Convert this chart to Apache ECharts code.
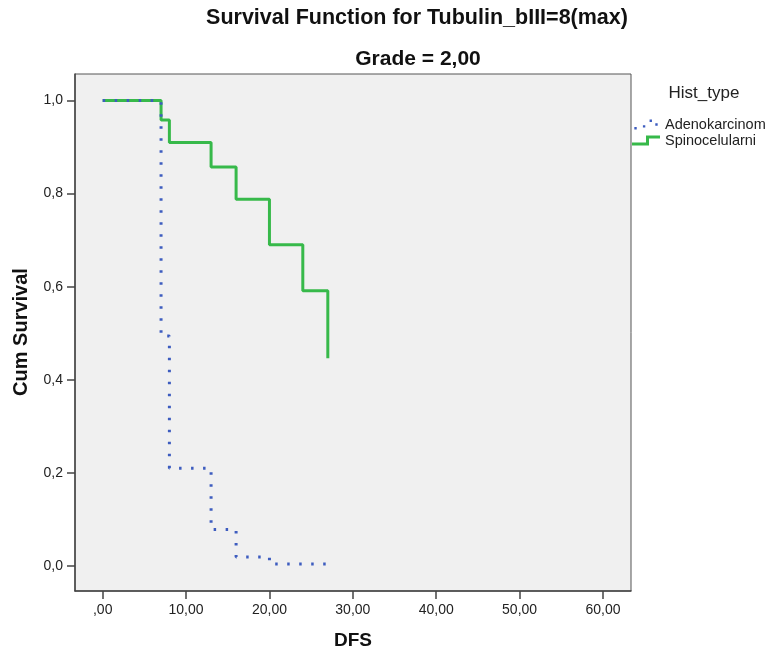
<!DOCTYPE html>
<html>
<head>
<meta charset="utf-8">
<script src="https://cdn.jsdelivr.net/npm/echarts@6/dist/echarts.min.js"></script>
<style>html,body{margin:0;padding:0;background:#fff}#c{width:767px;height:654px}</style>
</head>
<body>
<div id="c"></div>
<script>
var xTicks = [0, 10, 20, 30, 40, 50, 60];
var yTicks = [0, 0.2, 0.4, 0.6, 0.8, 1.0];
var adenoTime = [0, 7, 8, 13, 16, 20, 27];
var adenoSurv = [1.0, 0.494, 0.21, 0.078, 0.019, 0.004, 0.002];
var spinoTime = [0, 7, 8, 13, 16, 20, 24, 27];
var spinoSurv = [1.0, 0.958, 0.91, 0.857, 0.788, 0.69, 0.591, 0.446];

function zip(a, b) { return a.map(function (v, i) { return [v, b[i]]; }); }
function fmtX(v) { var s = v.toFixed(2).replace('.', ','); return s.replace(/^0,/, ','); }
function fmtY(v) { return v.toFixed(1).replace('.', ','); }

var FONT = '"Liberation Sans", Arial, sans-serif';
var chart = echarts.init(document.getElementById('c'));
chart.setOption({
  animation: false,
  backgroundColor: '#ffffff',
  grid: {
    left: 75, top: 74, width: 556, height: 517,
    show: true, backgroundColor: '#f0f0f0', borderColor: '#555', borderWidth: 1
  },
  xAxis: {
    type: 'value', min: -3.32, max: 63.36,
    splitLine: { show: false },
    axisLine: { show: true, onZero: false, lineStyle: { color: '#444', width: 1.5 } },
    axisTick: { show: true, length: 8, customValues: xTicks, lineStyle: { color: '#444', width: 1.5 } },
    axisLabel: { customValues: xTicks, formatter: fmtX, margin: 12, color: '#222', fontSize: 14, fontFamily: FONT }
  },
  yAxis: {
    type: 'value', min: -0.054, max: 1.057,
    splitLine: { show: false },
    axisLine: { show: true, onZero: false, lineStyle: { color: '#444', width: 1.5 } },
    axisTick: { show: true, length: 8, customValues: yTicks, lineStyle: { color: '#444', width: 1.5 } },
    axisLabel: { customValues: yTicks, formatter: fmtY, margin: 12, color: '#222', fontSize: 14, fontFamily: FONT }
  },
  legend: {
    orient: 'vertical', left: 627, top: 112, itemGap: 1, itemWidth: 28, itemHeight: 10,
    textStyle: { fontSize: 14.5, color: '#222', fontFamily: FONT },
    data: [
      { name: 'Adenokarcinom', icon: 'path://M0,8h2.5v2.5h-2.5zM9,6h2.5v2.5h-2.5zM16,0h2.5v2.5h-2.5zM22,4h2.5v2.5h-2.5z', itemStyle: { color: '#3d5cbf' } },
      { name: 'Spinocelularni', icon: 'path://M0,7h14v-7h14v3h-11v7h-17z', itemStyle: { color: '#37b94a' } }
    ]
  },
  graphic: [
    { type: 'text', x: 417, y: 18.5, style: { text: 'Survival Function for Tubulin_bIII=8(max)', align: 'center', verticalAlign: 'middle', font: 'bold 21.5px ' + FONT, fill: '#111' } },
    { type: 'text', x: 418, y: 59, style: { text: 'Grade = 2,00', align: 'center', verticalAlign: 'middle', font: 'bold 21px ' + FONT, fill: '#111' } },
    { type: 'text', x: 704, y: 93, style: { text: 'Hist_type', align: 'center', verticalAlign: 'middle', font: '17px ' + FONT, fill: '#222' } },
    { type: 'text', x: 353, y: 641, style: { text: 'DFS', align: 'center', verticalAlign: 'middle', font: 'bold 19px ' + FONT, fill: '#111' } },
    { type: 'text', x: 21, y: 332, rotation: Math.PI / 2, style: { text: 'Cum Survival', align: 'center', verticalAlign: 'middle', font: 'bold 20px ' + FONT, fill: '#111' } }
  ],
  series: [
    {
      name: 'Spinocelularni', type: 'line', step: 'end', symbol: 'none', z: 2,
      data: zip(spinoTime, spinoSurv),
      lineStyle: { color: '#37b94a', width: 3 }, itemStyle: { color: '#37b94a' }
    },
    {
      name: 'Adenokarcinom', type: 'line', step: 'end', symbol: 'none', z: 3,
      data: zip(adenoTime, adenoSurv),
      lineStyle: { color: '#3d5cbf', width: 3, type: [2.5, 9.5], cap: 'butt' }, itemStyle: { color: '#3d5cbf' }
    }
  ]
});
</script>
</body>
</html>
